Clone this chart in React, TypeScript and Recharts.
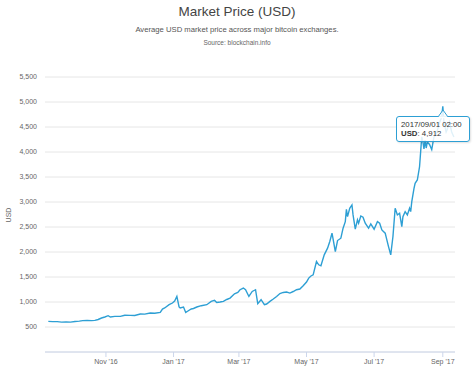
import { CartesianGrid, Line, LineChart, Tooltip, XAxis, YAxis } from 'recharts';

const dates = [
  '2016-09-10', '2016-09-14', '2016-09-18', '2016-09-22', '2016-09-26', '2016-09-30',
  '2016-10-04', '2016-10-08', '2016-10-11', '2016-10-15', '2016-10-19', '2016-10-22',
  '2016-10-25', '2016-10-28', '2016-10-31', '2016-11-03', '2016-11-05', '2016-11-09',
  '2016-11-14', '2016-11-18', '2016-11-23', '2016-11-27', '2016-12-02', '2016-12-06',
  '2016-12-11', '2016-12-15', '2016-12-20', '2016-12-22', '2016-12-24', '2016-12-28',
  '2016-12-31', '2017-01-02', '2017-01-04', '2017-01-06', '2017-01-07', '2017-01-10',
  '2017-01-12', '2017-01-14', '2017-01-17', '2017-01-19', '2017-01-22', '2017-01-26',
  '2017-01-31', '2017-02-04', '2017-02-07', '2017-02-09', '2017-02-12', '2017-02-15',
  '2017-02-18', '2017-02-21', '2017-02-25', '2017-02-28', '2017-03-02', '2017-03-05',
  '2017-03-07', '2017-03-10', '2017-03-13', '2017-03-16', '2017-03-18', '2017-03-21',
  '2017-03-24', '2017-03-26', '2017-03-29', '2017-04-01', '2017-04-04', '2017-04-07',
  '2017-04-10', '2017-04-13', '2017-04-16', '2017-04-19', '2017-04-22', '2017-04-25',
  '2017-04-28', '2017-05-01', '2017-05-03', '2017-05-05', '2017-05-07', '2017-05-10',
  '2017-05-12', '2017-05-14', '2017-05-17', '2017-05-20', '2017-05-22', '2017-05-24',
  '2017-05-25', '2017-05-27', '2017-05-29', '2017-06-01', '2017-06-03', '2017-06-05',
  '2017-06-06', '2017-06-07', '2017-06-09', '2017-06-11', '2017-06-12', '2017-06-14',
  '2017-06-16', '2017-06-17', '2017-06-19', '2017-06-21', '2017-06-23', '2017-06-26',
  '2017-06-28', '2017-07-01', '2017-07-04', '2017-07-06', '2017-07-08', '2017-07-11',
  '2017-07-14', '2017-07-16', '2017-07-18', '2017-07-20', '2017-07-22', '2017-07-24',
  '2017-07-26', '2017-07-27', '2017-07-29', '2017-07-31', '2017-08-02', '2017-08-03',
  '2017-08-04', '2017-08-06', '2017-08-07', '2017-08-09', '2017-08-11', '2017-08-12',
  '2017-08-13', '2017-08-14', '2017-08-15', '2017-08-16', '2017-08-17', '2017-08-18',
  '2017-08-20', '2017-08-22', '2017-08-24', '2017-08-26', '2017-08-29', '2017-08-31',
  '2017-09-01', '2017-09-02', '2017-09-04', '2017-09-05', '2017-09-07', '2017-09-09',
  '2017-09-11',
];

const prices = [
  612, 608, 607, 597, 601, 598,
  610, 617, 627, 630, 628, 633,
  650, 680, 700, 726, 700, 712,
  712, 735, 732, 730, 760, 758,
  780, 775, 792, 860, 880, 946,
  980, 1020, 1111, 900, 880, 900,
  792, 820, 860, 870, 900, 926,
  946, 1012, 1032, 992, 1000, 1012,
  1050, 1079, 1165, 1190, 1245, 1279,
  1245, 1111, 1211, 1245, 966, 1046,
  946, 960, 1012, 1060, 1111, 1170,
  1191, 1200, 1179, 1210, 1245, 1260,
  1325, 1400, 1478, 1520, 1544, 1810,
  1744, 1724, 1943, 2077, 2209, 2376,
  2257, 2009, 2229, 2276, 2476, 2608,
  2855, 2708, 2875, 2941, 2741, 2456,
  2642, 2575, 2721, 2695, 2575, 2476,
  2562, 2456, 2608, 2575, 2442, 2376,
  2109, 1943, 2309, 2875, 2741, 2775,
  2509, 2708, 2808, 2741, 2875, 2808,
  3007, 3274, 3374, 3440, 3705, 4005,
  4304, 4210, 4060, 4240, 4080, 4200,
  4150, 4050, 4300, 4350, 4580, 4700,
  4912, 4600, 4400, 4450, 4600, 4400,
  4300,
];

const xTicks = ['2016-11-01', '2017-01-01', '2017-03-01', '2017-05-01', '2017-07-01', '2017-09-01'];
const xTickLabels = ["Nov '16", "Jan '17", "Mar '17", "May '17", "Jul '17", "Sep '17"];
const yTicks = [500, 1000, 1500, 2000, 2500, 3000, 3500, 4000, 4500, 5000, 5500];

const xStart = '2016-09-07';
const xEnd = '2017-09-12';
const tooltipDate = '2017-09-01';
const tooltipLabel = '2017/09/01 02:00';

const font = "'Liberation Sans', Arial, sans-serif";
const lineColor = '#2d9fd4';

function toTime(d: string): number {
  const [y, m, day] = d.split('-').map(Number);
  return Date.UTC(y, m - 1, day);
}

const data = dates.map((d, i) => ({ t: toTime(d), price: prices[i] }));
const tickTimes = xTicks.map(toTime);
const tooltipIndex = dates.indexOf(tooltipDate);

function PriceTooltip({ active, payload }: any) {
  if (!active || !payload || !payload.length) return null;
  const value = payload[0].value as number;
  return (
    <div
      style={{
        position: 'relative',
        width: 74,
        height: 26,
        boxSizing: 'border-box',
        border: `1px solid ${lineColor}`,
        borderRadius: 3,
        background: 'rgba(255,255,255,0.85)',
        fontFamily: font,
        fontSize: 7.8,
        lineHeight: '9px',
        color: '#333',
        padding: '3px 4px',
        whiteSpace: 'nowrap',
        boxShadow: '1px 1px 2px rgba(0,0,0,0.12)',
      }}
    >
      <div>{tooltipLabel}</div>
      <div>
        <b>USD</b>: {value.toLocaleString('en-US')}
      </div>
      <svg
        width={10}
        height={8}
        style={{ position: 'absolute', left: 41, top: -8, overflow: 'visible' }}
      >
        <path d="M0,8 L5,1 L10,8" fill="rgba(255,255,255,0.85)" stroke={lineColor} strokeWidth={1} />
        <path d="M0.5,8.5 L9.5,8.5" stroke="rgba(255,255,255,0.95)" strokeWidth={1.5} />
      </svg>
    </div>
  );
}

export default function App() {
  return (
    <div style={{ position: 'absolute', left: 0, top: 0, width: 474, height: 376, background: '#fff' }}>
      <div style={{ position: 'absolute', top: 3, width: 474, textAlign: 'center', fontFamily: font, fontSize: 13.5, color: '#444', lineHeight: '18px' }}>
        Market Price (USD)
      </div>
      <div style={{ position: 'absolute', top: 25, width: 474, textAlign: 'center', fontFamily: font, fontSize: 7.7, color: '#555', lineHeight: '10px' }}>
        Average USD market price across major bitcoin exchanges.
      </div>
      <div style={{ position: 'absolute', top: 39, width: 474, textAlign: 'center', fontFamily: font, fontSize: 6.5, color: '#666', lineHeight: '8px' }}>
        Source: blockchain.info
      </div>
      <div
        style={{
          position: 'absolute',
          left: 8,
          top: 215,
          transform: 'translate(-50%, -50%) rotate(-90deg)',
          fontFamily: font,
          fontSize: 7,
          color: '#666',
        }}
      >
        USD
      </div>
      <LineChart width={474} height={376} data={data} margin={{ top: 77, right: 19, bottom: 0, left: 0 }}>
        <CartesianGrid vertical={false} stroke="#e6e6e6" />
        <XAxis
          dataKey="t"
          type="number"
          domain={[toTime(xStart), toTime(xEnd)]}
          allowDataOverflow
          ticks={tickTimes}
          tickFormatter={(v: number) => xTickLabels[tickTimes.indexOf(v)] ?? ''}
          axisLine={{ stroke: '#ccd6eb' }}
          tickLine={{ stroke: '#ccd6eb' }}
          tickSize={5}
          tickMargin={2}
          height={24}
          tick={{ fontSize: 7, fill: '#666', fontFamily: font }}
        />
        <YAxis
          domain={[0, 5500]}
          ticks={yTicks}
          tickFormatter={(v: number) => v.toLocaleString('en-US')}
          axisLine={false}
          tickLine={false}
          tickSize={0}
          tickMargin={8}
          width={45}
          tick={{ fontSize: 7, fill: '#666', fontFamily: font }}
        />
        <Tooltip
          active
          defaultIndex={tooltipIndex}
          cursor={false}
          position={{ x: 396, y: 116 }}
          content={<PriceTooltip />}
          isAnimationActive={false}
          wrapperStyle={{ outline: 'none' }}
        />
        <Line
          type="linear"
          dataKey="price"
          stroke={lineColor}
          strokeWidth={1.4}
          dot={false}
          activeDot={false}
          isAnimationActive={false}
        />
      </LineChart>
    </div>
  );
}
